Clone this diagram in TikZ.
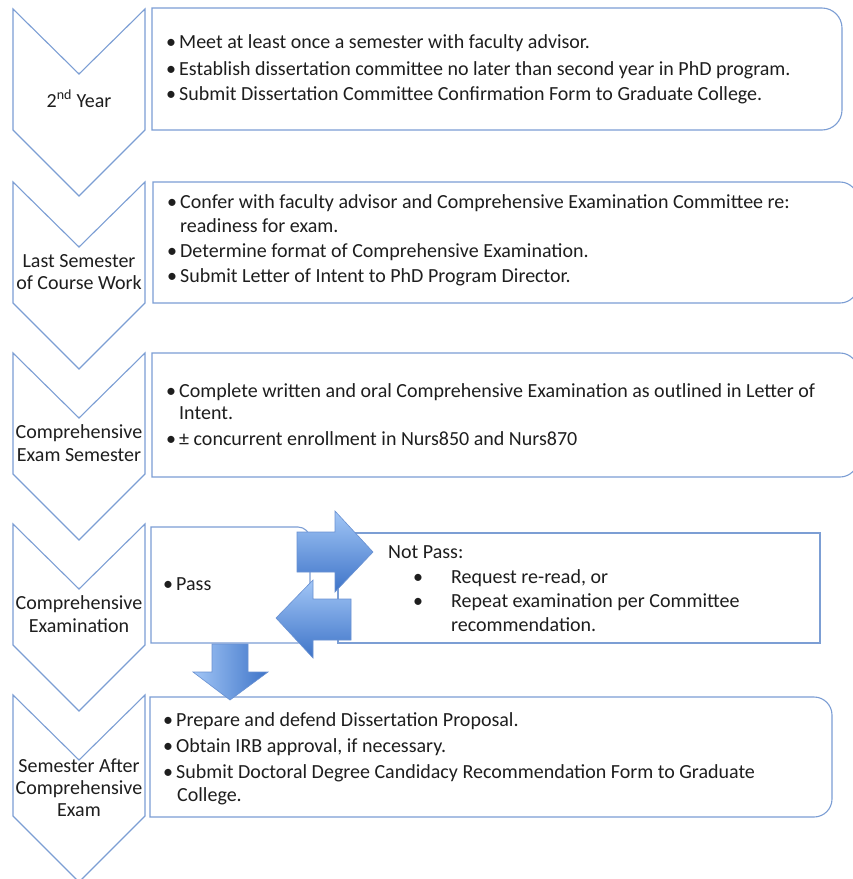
\documentclass[tikz,border=0pt]{standalone}
\usepackage{fontspec}
\setmainfont{Carlito}
\definecolor{edge}{RGB}{124,158,212}
\definecolor{arlight}{RGB}{162,198,246}
\definecolor{ardark}{RGB}{62,116,200}
\definecolor{arline}{RGB}{105,145,210}
\definecolor{txt}{RGB}{30,30,30}
\newcommand\rbox[5]{%
 \draw[frame] (#1,#2) -- ({#3-#5},#2) .. controls ({#3-0.45*#5},#2) and (#3,{#2+0.45*#5}) .. (#3,{#2+#5}) -- (#3,{#4-#5}) .. controls (#3,{#4-0.45*#5}) and ({#3-0.45*#5},#4) .. ({#3-#5},#4) -- (#1,#4) -- cycle;}
\newcommand\chev[1]{%
 \draw[frame] (13,#1) -- (79,{#1+65}) -- (145,#1) -- (145,{#1+121}) -- (79,{#1+187}) -- (13,{#1+121}) -- cycle;}
\newcommand\bul{\makebox[13pt][l]{\textbullet}}
\newcommand\bulw{\makebox[38pt][l]{\textbullet}}
\tikzset{
 frame/.style={draw=edge, line width=1.1pt, line join=miter},
 lbl/.style={font=\fontsize{20}{22}\selectfont, text=txt, inner sep=0pt, anchor=base},
 item/.style={font=\fontsize{20}{22}\selectfont, text=txt, inner sep=0pt, anchor=base west},
 blockarrow/.style={draw=arline, line width=0.6pt, line join=miter},
}
\begin{document}
\begin{tikzpicture}[x=1pt,y=-1pt]
\useasboundingbox (0,0) rectangle (853,879);
\clip (0,0) rectangle (853,879);
\fill[white] (0,0) rectangle (853,879);
% chevrons
\chev{9}
\chev{182}
\chev{353}
\chev{524}
\chev{695}
% chevron labels
\node[lbl] (c1) at (79,107) {2\textsuperscript{nd} Year};
\node[lbl] (c2a) at (79,267) {Last Semester};
\node[lbl] (c2b) at (79,289) {of Course Work};
\node[lbl] (c3a) at (79,438) {Comprehensive};
\node[lbl] (c3b) at (79,461) {Exam Semester};
\node[lbl] (c4a) at (79,609) {Comprehensive};
\node[lbl] (c4b) at (79,632) {Examination};
\node[lbl] (c5a) at (79,772) {Semester After};
\node[lbl] (c5b) at (79,794) {Comprehensive};
\node[lbl] (c5c) at (79,816) {Exam};
% boxes
\rbox{152}{8}{842}{130}{20}
\rbox{153}{182}{858}{303}{18}
\rbox{152}{353}{858}{477}{18}
\rbox{151}{527}{310}{643}{12}
\draw[frame] (338,533) rectangle (820,643);
\rbox{150}{697}{832}{817}{18}
% box 1
\node[item] (b1a) at (166,48) {\bul Meet at least once a semester with faculty advisor.};
\node[item] (b1b) at (166,75) {\bul Establish dissertation committee no later than second year in PhD program.};
\node[item] (b1c) at (166,100) {\bul Submit Dissertation Committee Confirmation Form to Graduate College.};
% box 2
\node[item] (b2a) at (167,208) {\bul Confer with faculty advisor and Comprehensive Examination Committee re:};
\node[item] (b2b) at (180,232) {readiness for exam.};
\node[item] (b2c) at (167,257) {\bul Determine format of Comprehensive Examination.};
\node[item] (b2d) at (167,282) {\bul Submit Letter of Intent to PhD Program Director.};
% box 3
\node[item] (b3a) at (166,397) {\bul Complete written and oral Comprehensive Examination as outlined in Letter of};
\node[item] (b3b) at (179,419) {Intent.};
\node[item] (b3c) at (166,445) {\bul ± concurrent enrollment in Nurs850 and Nurs870};
% pass / not pass
\node[item] (p1) at (163,590) {\bul Pass};
\node[item] (np0) at (388,558) {Not Pass:};
\node[item] (np1) at (413,583) {\bulw Request re-read, or};
\node[item] (np2) at (413,607) {\bulw Repeat examination per Committee};
\node[item] (np3) at (451,631) {recommendation.};
% box 5
\node[item] (b5a) at (163,726) {\bul Prepare and defend Dissertation Proposal.};
\node[item] (b5b) at (163,752) {\bul Obtain IRB approval, if necessary.};
\node[item] (b5c) at (163,778) {\bul Submit Doctoral Degree Candidacy Recommendation Form to Graduate};
\node[item] (b5d) at (177,801) {College.};
% block arrows
\draw[blockarrow, top color=arlight, bottom color=ardark] (297,532) -- (335,532) -- (335,511) -- (373,552) -- (335,592) -- (335,572) -- (297,572) -- cycle;
\draw[blockarrow, top color=arlight, bottom color=ardark] (351,599) -- (313,599) -- (313,580) -- (276,618) -- (313,658) -- (313,640) -- (351,640) -- cycle;
\draw[blockarrow, left color=arlight, right color=ardark] (212,644) -- (248,644) -- (248,672) -- (268,672) -- (230,700) -- (193,672) -- (212,672) -- cycle;
\end{tikzpicture}
\end{document}
